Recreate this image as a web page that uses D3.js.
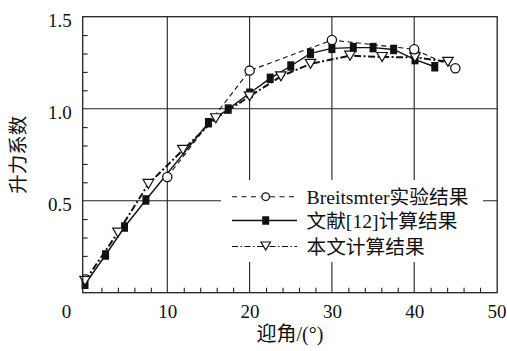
<!DOCTYPE html>
<html>
<head>
<meta charset="utf-8">
<script src="https://cdn.jsdelivr.net/npm/d3@7"></script>
<style>
  html, body { margin: 0; padding: 0; background: #fff; }
  svg { display: block; }
  text { font-family: "Liberation Serif", "Times New Roman", "Noto Sans CJK SC", serif; fill: #111; }
</style>
</head>
<body>
<svg id="chart" width="507" height="351"></svg>
<script>
// Lift coefficient vs. angle of attack
const expAngle = [10, 20, 30, 40, 45];
const expCl    = [0.629, 1.207, 1.373, 1.323, 1.220];

const refAngle = [0, 2.5, 4.8, 7.4, 15, 17.4, 20, 22.5, 25, 27.4, 30, 32.6, 35, 37.5, 40.1, 42.5];
const refCl    = [0.046, 0.205, 0.357, 0.504, 0.924, 0.998, 1.084, 1.165, 1.232, 1.301, 1.328, 1.332, 1.332, 1.322, 1.267, 1.228];

const calcAngle = [0, 4.0, 7.7, 11.9, 15.9, 20, 23.8, 27.4, 32.2, 36.1, 40.1, 44.1];
const calcCl    = [0.064, 0.327, 0.591, 0.776, 0.948, 1.067, 1.176, 1.244, 1.288, 1.281, 1.279, 1.255];

const xTickValues = [0, 10, 20, 30, 40, 50];
const yTickValues = [0.5, 1.0, 1.5];
const legendLabels = ["Breitsmter实验结果", "文献[12]计算结果", "本文计算结果"];
const xTitle = "迎角/(°)";
const yTitle = "升力系数";

const svg = d3.select("#chart");
const pL = 82.7, pR = 497.2, pT = 16.7, pB = 292.7;

const x = d3.scaleLinear().domain([-0.28, 50]).range([pL, 496.5]);
const y = d3.scaleLinear().domain([0, 1.5]).range([pB, pT]);

const fontSize = 19;
const legendFont = 19.7;

// grid lines
const grid = svg.append("g").attr("stroke", "#222").attr("stroke-width", 1.1);
[10, 20, 30, 40].forEach(v => {
  grid.append("line").attr("x1", x(v)).attr("x2", x(v)).attr("y1", pT).attr("y2", pB);
});
[0.5, 1.0].forEach(v => {
  grid.append("line").attr("x1", pL).attr("x2", pR).attr("y1", y(v)).attr("y2", y(v));
});

// minor ticks (inward)
const xMinor = d3.range(2, 50, 2).filter(v => v % 10 !== 0);
const yMinor = d3.range(1, 15).filter(v => v % 5 !== 0).map(v => v / 10);

svg.append("g")
  .attr("transform", `translate(0,${pB})`)
  .call(d3.axisBottom(x).tickValues(xMinor).tickSize(-5).tickFormat(""))
  .call(g => g.select(".domain").remove())
  .call(g => g.selectAll("line").attr("stroke", "#222").attr("stroke-width", 1.1));

svg.append("g")
  .attr("transform", `translate(${pL},0)`)
  .call(d3.axisLeft(y).tickValues(yMinor).tickSize(-5).tickFormat(""))
  .call(g => g.select(".domain").remove())
  .call(g => g.selectAll("line").attr("stroke", "#222").attr("stroke-width", 1.1));

// tick labels
svg.append("g")
  .attr("transform", `translate(0,${pB})`)
  .call(d3.axisBottom(x).tickValues(xTickValues).tickSize(0).tickPadding(12).tickFormat(d3.format("d")))
  .call(g => g.select(".domain").remove())
  .call(g => g.selectAll("text")
    .attr("font-size", fontSize)
    .attr("font-family", "Liberation Serif, serif")
    .attr("fill", "#111")
    .attr("dx", d => d === 0 ? -19 : 0));

svg.append("g")
  .attr("transform", `translate(${pL},0)`)
  .call(d3.axisLeft(y).tickValues(yTickValues).tickSize(0).tickPadding(11).tickFormat(d3.format(".1f")))
  .call(g => g.select(".domain").remove())
  .call(g => g.selectAll("text")
    .attr("font-size", fontSize)
    .attr("font-family", "Liberation Serif, serif")
    .attr("fill", "#111")
    .attr("dy", "0.5em"));

// series lines
const line = d3.line().x(d => x(d[0])).y(d => y(d[1]));
const expPts = expAngle.map((a, i) => [a, expCl[i]]);
const refPts = refAngle.map((a, i) => [a, refCl[i]]);
const calcPts = calcAngle.map((a, i) => [a, calcCl[i]]);

svg.append("path").datum(expPts).attr("d", line)
  .attr("fill", "none").attr("stroke", "#111").attr("stroke-width", 1.1).attr("stroke-dasharray", "5,3.5");
svg.append("path").datum(refPts).attr("d", line)
  .attr("fill", "none").attr("stroke", "#111").attr("stroke-width", 1.4);
svg.append("path").datum(calcPts).attr("d", line)
  .attr("fill", "none").attr("stroke", "#111").attr("stroke-width", 2).attr("stroke-dasharray", "7,2.5,2,2.5");

// markers
function circle(g, cx, cy, r) {
  g.append("circle").attr("cx", cx).attr("cy", cy).attr("r", r)
    .attr("fill", "#fff").attr("stroke", "#111").attr("stroke-width", 1.3);
}
function square(g, cx, cy, w, h) {
  g.append("rect").attr("x", cx - w / 2).attr("y", cy - h / 2).attr("width", w).attr("height", h)
    .attr("fill", "#111");
}
function triangle(g, cx, cy, w, h) {
  g.append("path")
    .attr("d", `M${cx - w / 2},${cy - h / 2}L${cx + w / 2},${cy - h / 2}L${cx},${cy + h / 2}Z`)
    .attr("fill", "#fff").attr("stroke", "#111").attr("stroke-width", 1.2);
}

const marks = svg.append("g");
refPts.forEach(d => square(marks, x(d[0]), y(d[1]), 7, 9.5));
calcPts.forEach(d => triangle(marks, x(d[0]), y(d[1]), 10.5, 9));
expPts.forEach(d => circle(marks, x(d[0]), y(d[1]), 4.6));

// legend
const lg = svg.append("g");
lg.append("rect").attr("x", 221).attr("y", 180).attr("width", 262).attr("height", 82).attr("fill", "#fff");
const rows = [196.7, 220.5, 246.5];
const lx1 = 232, lx2 = 297, mx = 265.7;
lg.append("line").attr("x1", lx1).attr("x2", lx2).attr("y1", rows[0]).attr("y2", rows[0])
  .attr("stroke", "#111").attr("stroke-width", 1.1).attr("stroke-dasharray", "5,4.5");
lg.append("line").attr("x1", lx1).attr("x2", lx2).attr("y1", rows[1]).attr("y2", rows[1])
  .attr("stroke", "#111").attr("stroke-width", 1.4);
lg.append("line").attr("x1", lx1).attr("x2", lx2).attr("y1", rows[2]).attr("y2", rows[2])
  .attr("stroke", "#111").attr("stroke-width", 1.2).attr("stroke-dasharray", "6,2.5,1.5,2.5");
circle(lg, mx, rows[0], 3.8);
square(lg, mx, rows[1], 7, 8.5);
triangle(lg, mx, rows[2] - 0.5, 9.5, 8);
legendLabels.forEach((t, i) => {
  lg.append("text").attr("x", 306.5).attr("y", rows[i]).attr("dy", "0.36em")
    .attr("font-size", legendFont).text(t);
});

// frame
svg.append("rect").attr("x", pL).attr("y", pT).attr("width", pR - pL).attr("height", pB - pT)
  .attr("fill", "none").attr("stroke", "#222").attr("stroke-width", 1.3);

// axis titles
svg.append("text").attr("x", (pL + pR) / 2).attr("y", 341)
  .attr("text-anchor", "middle").attr("font-size", 20).text(xTitle);
svg.append("text")
  .attr("transform", `translate(25,${(pT + pB) / 2}) rotate(-90)`)
  .attr("text-anchor", "middle").attr("font-size", 19.5).text(yTitle);
</script>
</body>
</html>
